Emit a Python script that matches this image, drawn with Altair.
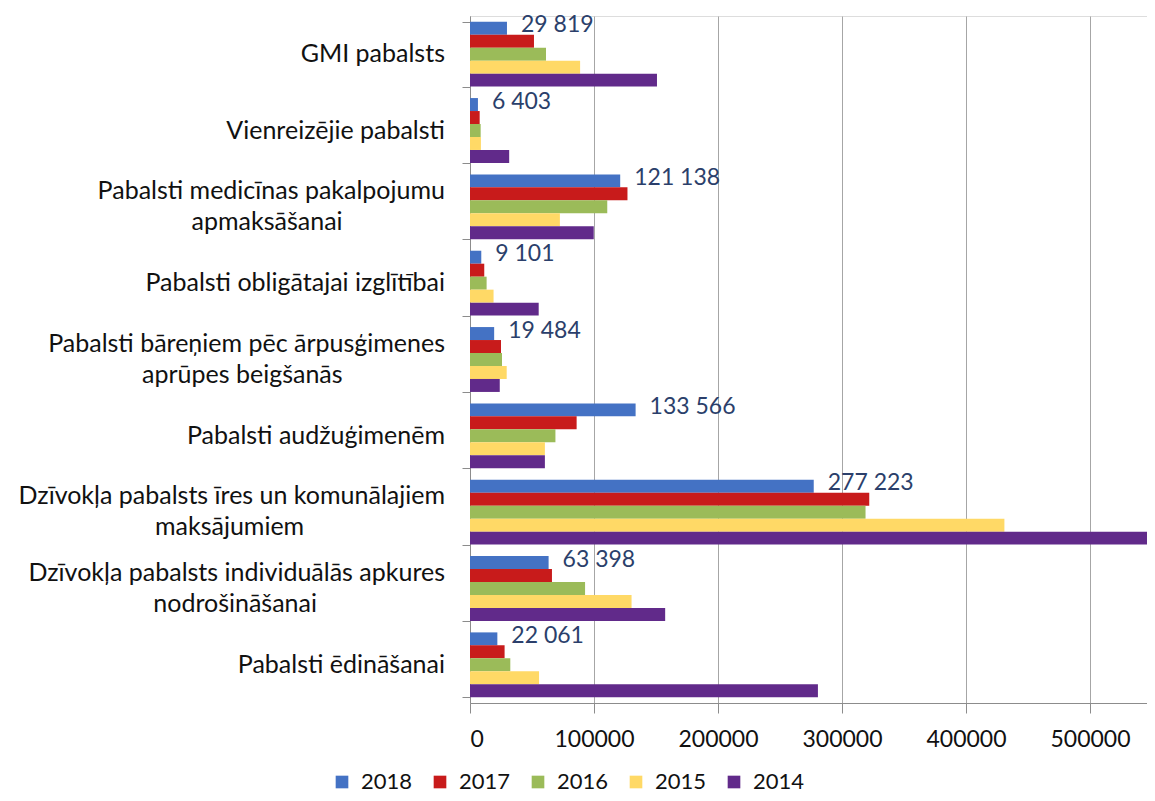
import altair as alt
import pandas as pd

NB = "\u00a0"
END = "\u200b"  # zero-width end marker so the padding spaces are kept

categories = [
    "GMI pabalsts",
    "Vienreizējie pabalsti",
    "Pabalsti medicīnas pakalpojumu|apmaksāšanai" + NB * 16 + END,
    "Pabalsti obligātajai izglītībai",
    "Pabalsti bāreņiem pēc ārpusģimenes|aprūpes beigšanās" + NB * 16 + END,
    "Pabalsti audžuģimenēm",
    "Dzīvokļa pabalsts īres un komunālajiem|maksājumiem" + NB * 22 + END,
    "Dzīvokļa pabalsts individuālās apkures|nodrošināšanai" + NB * 20 + END,
    "Pabalsti ēdināšanai",
]

years = ["2018", "2017", "2016", "2015", "2014"]
colors = ["#4472C4", "#C81B1B", "#9BBB59", "#FFD966", "#612A8A"]

v2018 = [29819, 6403, 121138, 9101, 19484, 133566, 277223, 63398, 22061]
v2017 = [51600, 7800, 127000, 11500, 25000, 86000, 322000, 66100, 27900]
v2016 = [61300, 8600, 110700, 13400, 25800, 68900, 319000, 92800, 32500]
v2015 = [88800, 8800, 72500, 19000, 29600, 60400, 431000, 130300, 55700]
v2014 = [150800, 31600, 99800, 55400, 24000, 60400, 552000, 157400, 280600]

series = {"2018": v2018, "2017": v2017, "2016": v2016, "2015": v2015, "2014": v2014}

rows = []
for y in years:
    for c, v in zip(categories, series[y]):
        rows.append({"category": c, "year": y, "value": v,
                     "label": f"{v:,}".replace(",", " ")})
df = pd.DataFrame(rows)
cat_df = pd.DataFrame({"category": categories})

FONT = "Lato"

y_sort = categories
y_scale = alt.Scale(paddingInner=0.15, paddingOuter=0.075)

y_enc = alt.Y(
    "category:N",
    sort=y_sort,
    scale=y_scale,
    axis=alt.Axis(
        title=None,
        labels=False,
        tickSize=8,
        tickColor="#8c8c8c",
        tickBand="extent",
        domainColor="#8c8c8c",
        grid=False,
    ),
)
yoff_enc = alt.YOffset("year:N", sort=years,
                       scale=alt.Scale(domain=years, paddingInner=0, paddingOuter=0))
x_enc = alt.X(
    "value:Q",
    scale=alt.Scale(domain=[0, 546000], nice=False),
    axis=alt.Axis(
        title=None,
        orient="bottom",
        values=[0, 100000, 200000, 300000, 400000, 500000],
        format="d",
        labelFont=FONT,
        labelFontSize=23,
        labelColor="#111111",
        labelPadding=15,
        tickSize=10,
        tickColor="#8c8c8c",
        domainColor="#8c8c8c",
        grid=True,
        gridColor="#a6a6a6",
        gridWidth=1,
    ),
)

bars = alt.Chart(df).mark_bar(clip=True).encode(
    x=x_enc,
    y=y_enc,
    yOffset=yoff_enc,
    color=alt.Color(
        "year:N",
        scale=alt.Scale(domain=years, range=colors),
        legend=alt.Legend(
            title=None,
            orient="none",
            direction="horizontal",
            legendX=-139,
            legendY=755,
            symbolType="square",
            symbolSize=160,
            symbolStrokeWidth=0,
            labelFont=FONT,
            labelFontSize=22,
            labelColor="#111111",
            labelOffset=8,
            columnPadding=16,
        ),
    ),
)

values_text = alt.Chart(df).transform_filter(alt.datum.year == "2018").mark_text(
    align="left", baseline="middle", dx=14, dy=-3,
    font=FONT, fontSize=23, color="#2B3F6B",
).encode(
    x=alt.X("value:Q"),
    y=alt.Y("category:N", sort=y_sort),
    yOffset=alt.YOffset("year:N", sort=years),
    text="label:N",
)

# category names, drawn beside the axis (single and two-line)
cat_base = alt.Chart(cat_df).transform_calculate(
    lines="split(datum.category, '|')"
)
cat_single = cat_base.transform_filter("indexof(datum.category, '|') < 0").mark_text(
    align="right", baseline="middle", font=FONT, fontSize=25, color="#111111",
).encode(
    x=alt.value(-25),
    y=alt.Y("category:N", sort=y_sort),
    text="lines:N",
)
cat_multi = cat_base.transform_filter("indexof(datum.category, '|') >= 0").mark_text(
    align="right", baseline="line-bottom", lineHeight=31,
    font=FONT, fontSize=25, color="#111111",
).encode(
    x=alt.value(-25),
    y=alt.Y("category:N", sort=y_sort),
    text="lines:N",
)

chart = alt.layer(bars, values_text, cat_single, cat_multi).properties(
    width=677,
    height=687,
    autosize="none",
    padding={"left": 462, "top": 8, "right": 0, "bottom": 90},
).configure_view(stroke=None).configure(background="white")

chart.save("out.html", embed_options={"renderer": "svg", "actions": False})
